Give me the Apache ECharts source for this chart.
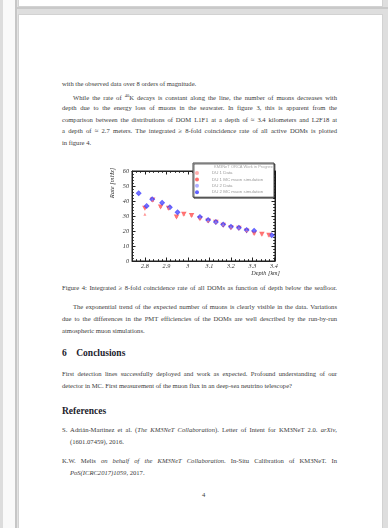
<!DOCTYPE html>
<html>
<head>
<meta charset="utf-8">
<script src="https://cdn.jsdelivr.net/npm/echarts@6/dist/echarts.min.js"></script>
<style>
  html, body { margin: 0; padding: 0; width: 388px; height: 528px; overflow: hidden; background: #dedede; }
  .strip { position: absolute; top: 0; height: 528px; }
  .page { position: absolute; left: 18px; width: 365px; background: #fff; border: 1px solid #d2d2d2; box-sizing: border-box; }
  .ln { position: absolute; left: 62px; width: 275px; font-family: "Liberation Serif", serif; font-size: 6.6px; line-height: 8px; color: #3a3a3a; white-space: nowrap; }
  .j { text-align: justify; text-align-last: justify; white-space: normal; }
  .ind { padding-left: 11px; box-sizing: border-box; }
  .hd { position: absolute; left: 62px; font-family: "Liberation Serif", serif; font-weight: bold; font-size: 9.5px; line-height: 12px; color: #1c1c2c; white-space: nowrap; }
  i { font-style: italic; }
  #chart { position: absolute; left: 0; top: 0; width: 388px; height: 528px; }
</style>
</head>
<body>
<div class="strip" style="left:0;width:3px;background:#dcdcdc"></div>
<div class="strip" style="left:3px;width:12px;background:#f9f9f9"></div>
<div class="strip" style="left:15px;width:2px;background:#c6c6c6"></div>
<div class="strip" style="left:17px;width:1px;background:#e2e2e2"></div>
<div style="position:absolute;left:17px;top:7px;width:371px;height:2px;background:#c9c9c9"></div>
<div class="page" style="top:-2px;height:9px"></div>
<div class="page" style="top:14px;height:520px"></div>

<!-- body text of the page -->
<div class="ln" style="top:80px">with the observed data over 8 orders of magnitude.</div>
<div class="ln j ind" style="top:92px">While the rate of <sup style="font-size:4.5px">40</sup>K decays is constant along the line, the number of muons decreases with</div>
<div class="ln j" style="top:104px">depth due to the energy loss of muons in the seawater. In figure 3, this is apparent from the</div>
<div class="ln j" style="top:116px">comparison between the distributions of DOM L1F1 at a depth of &#8776; 3.4 kilometers and L2F18 at</div>
<div class="ln j" style="top:127px">a depth of &#8776; 2.7 meters. The integrated &#8805; 8-fold coincidence rate of all active DOMs is plotted</div>
<div class="ln" style="top:139px">in figure 4.</div>

<div class="ln j" style="top:284px">Figure 4: Integrated &#8805; 8-fold coincidence rate of all DOMs as function of depth below the seafloor.</div>

<div class="ln j ind" style="top:303px">The exponential trend of the expected number of muons is clearly visible in the data. Variations</div>
<div class="ln j" style="top:315px">due to the differences in the PMT efficiencies of the DOMs are well described by the run-by-run</div>
<div class="ln" style="top:327px">atmospheric muon simulations.</div>

<div class="hd" style="top:347px">6&nbsp;&nbsp;&nbsp;&nbsp;Conclusions</div>

<div class="ln j" style="top:370px">First detection lines successfully deployed and work as expected. Profound understanding of our</div>
<div class="ln" style="top:382px">detector in MC. First measurement of the muon flux in an deep-sea neutrino telescope?</div>

<div class="hd" style="top:405px">References</div>

<div class="ln j" style="top:426px">S. Adri&aacute;n-Martinez et al. (<i>The KM3NeT Collaboration</i>). Letter of Intent for KM3NeT 2.0. <i>arXiv</i>,</div>
<div class="ln" style="top:438px;left:70px">(1601.07459), 2016.</div>
<div class="ln j" style="top:457px">K.W. Melis <i>on behalf of the KM3NeT Collaboration</i>. In-Situ Calibration of KM3NeT. In</div>
<div class="ln" style="top:469px;left:70px"><i>PoS(ICRC2017)1059</i>, 2017.</div>

<div class="ln" style="top:491px;left:202px;width:10px">4</div>

<div id="chart"></div>
<script>
// Depth of each DOM below the sea surface [km] and its integrated coincidence rate
const depthDU1 = [2.800, 2.836, 2.873, 2.910, 2.947, 2.981, 3.017, 3.056, 3.094, 3.130, 3.164, 3.200, 3.237, 3.273, 3.308, 3.344, 3.377];
const rateDU1Data = [31.1, 40.3, 36.4, 35.4, 29.8, 31.4, 30.7, 28.5, 26.9, 26.0, 24.1, 22.5, 22.0, 20.3, 18.7, 18.1, 17.4];
const rateDU1Sim  = [35.1, 40.7, 36.0, 35.1, 29.3, 31.1, 30.4, 28.2, 26.7, 25.8, 23.8, 22.2, 21.8, 20.0, 18.4, 17.8, 17.1];

const depthDU2 = [2.771, 2.808, 2.834, 2.880, 2.916, 2.952, 3.056, 3.094, 3.130, 3.164, 3.200, 3.237, 3.273, 3.308, 3.390];
const rateDU2Data = [45.7, 37.2, 41.5, 39.3, 36.1, 32.9, 29.7, 27.6, 26.3, 24.7, 23.2, 22.4, 20.9, 20.5, 17.4];
const rateDU2Sim  = [45.1, 36.7, 41.1, 38.9, 35.8, 32.5, 29.3, 27.3, 26.0, 24.4, 22.9, 22.2, 20.7, 20.2, 17.1];

const legendNames = ['DU 1 Data', 'DU 1 MC muon simulation', 'DU 2 Data', 'DU 2 MC muon simulation'];
const legendHeader = 'KM3NeT ORCA Work in Progress';
const xTitle = 'Depth [km]';
const yTitle = 'Rate [mHz]';

const pairs = (xs, ys) => xs.map((x, i) => [x, ys[i]]);
const triDown = 'path://M0,0 L10,0 L5,9 Z';

const tickFont = { fontFamily: 'Liberation Serif', fontStyle: 'italic', fontSize: 6.2, color: '#333' };
const lineStyle = { color: '#222', width: 1 };

const chart = echarts.init(document.getElementById('chart'), null, { renderer: 'canvas' });
chart.setOption({
  animation: false,
  grid: { left: 132, top: 171, width: 143, height: 90, show: true, borderColor: '#222', borderWidth: 1, backgroundColor: 'transparent' },
  xAxis: [{
    type: 'value', position: 'bottom', min: 2.74, max: 3.405, minInterval: 0.1, maxInterval: 0.1,
    axisLine: { show: true, onZero: false, lineStyle },
    axisTick: { show: true, inside: true, length: 3.5, lineStyle },
    minorTick: { show: true, splitNumber: 5, length: 1.8, lineStyle },
    splitLine: { show: false },
    axisLabel: Object.assign({ margin: 2, formatter: v => {
      const t = Math.round(v * 10);
      return Math.abs(v * 10 - t) < 1e-6 ? String(t / 10) : '';
    } }, tickFont)
  }, {
    type: 'value', position: 'top', min: 2.74, max: 3.405, minInterval: 0.1, maxInterval: 0.1,
    axisLine: { show: true, onZero: false, lineStyle },
    axisTick: { show: true, inside: true, length: 3.5, lineStyle },
    minorTick: { show: true, splitNumber: 5, length: 1.8, lineStyle },
    splitLine: { show: false }, axisLabel: { show: false }
  }],
  yAxis: [{
    type: 'value', position: 'left', min: 0, max: 60, interval: 10,
    axisLine: { show: true, onZero: false, lineStyle },
    axisTick: { show: true, inside: true, length: 3.5, lineStyle },
    minorTick: { show: true, splitNumber: 5, length: 1.8, lineStyle },
    splitLine: { show: false },
    axisLabel: Object.assign({ margin: 3 }, tickFont)
  }, {
    type: 'value', position: 'right', min: 0, max: 60, interval: 10,
    axisLine: { show: true, onZero: false, lineStyle },
    axisTick: { show: true, inside: true, length: 3.5, lineStyle },
    minorTick: { show: true, splitNumber: 5, length: 1.8, lineStyle },
    splitLine: { show: false }, axisLabel: { show: false }
  }],
  legend: {
    orient: 'vertical', left: 193, top: 163, padding: [8, 4, 3, 2], itemGap: 2.4,
    itemWidth: 12, itemHeight: 4, symbolKeepAspect: true,
    backgroundColor: '#fff', borderColor: '#444', borderWidth: 1,
    shadowColor: 'rgba(0,0,0,0.55)', shadowOffsetX: 1, shadowOffsetY: 1, shadowBlur: 0,
    textStyle: { fontFamily: 'Liberation Sans', fontSize: 4.4, lineHeight: 4, color: '#9a9a9a', width: 58, overflow: 'truncate', padding: [0, 0, 0, 4] },
    data: [
      { name: legendNames[0], icon: 'circle', itemStyle: { color: '#ff9a9a' } },
      { name: legendNames[1], icon: 'circle', itemStyle: { color: '#ff4a4a' } },
      { name: legendNames[2], icon: 'circle', itemStyle: { color: '#9a9aff' } },
      { name: legendNames[3], icon: 'circle', itemStyle: { color: '#3a3aff' } }
    ]
  },
  graphic: [
    { type: 'text', z: 100, left: 214, top: 165, style: { text: legendHeader, fontFamily: 'Liberation Sans', fontSize: 4, fill: '#a8a8a8' } },
    { type: 'text', z: 100, x: 112, y: 183, rotation: Math.PI / 2,
      style: { text: yTitle, fontFamily: 'Liberation Serif', fontStyle: 'italic', fontSize: 6.5, fill: '#333', align: 'center', verticalAlign: 'middle' } },
    { type: 'text', z: 100, x: 280, y: 273,
      style: { text: xTitle, fontFamily: 'Liberation Serif', fontStyle: 'italic', fontSize: 6.2, fill: '#333', align: 'right', verticalAlign: 'middle' } }
  ],
  series: [
    { name: legendNames[1], type: 'scatter', symbol: triDown, symbolSize: [5.5, 5], itemStyle: { color: '#ff4a4a' }, data: pairs(depthDU1, rateDU1Sim), z: 3 },
    { name: legendNames[0], type: 'scatter', symbol: 'triangle', symbolSize: 3, itemStyle: { color: '#ff7a7a' }, data: pairs(depthDU1, rateDU1Data), z: 4 },
    { name: legendNames[3], type: 'scatter', symbol: 'diamond', symbolSize: [6, 6], itemStyle: { color: '#3a3aff' }, data: pairs(depthDU2, rateDU2Sim), z: 3 },
    { name: legendNames[2], type: 'scatter', symbol: 'triangle', symbolSize: 3, itemStyle: { color: '#7a7aff' }, data: pairs(depthDU2, rateDU2Data), z: 4 }
  ]
});
</script>
</body>
</html>
